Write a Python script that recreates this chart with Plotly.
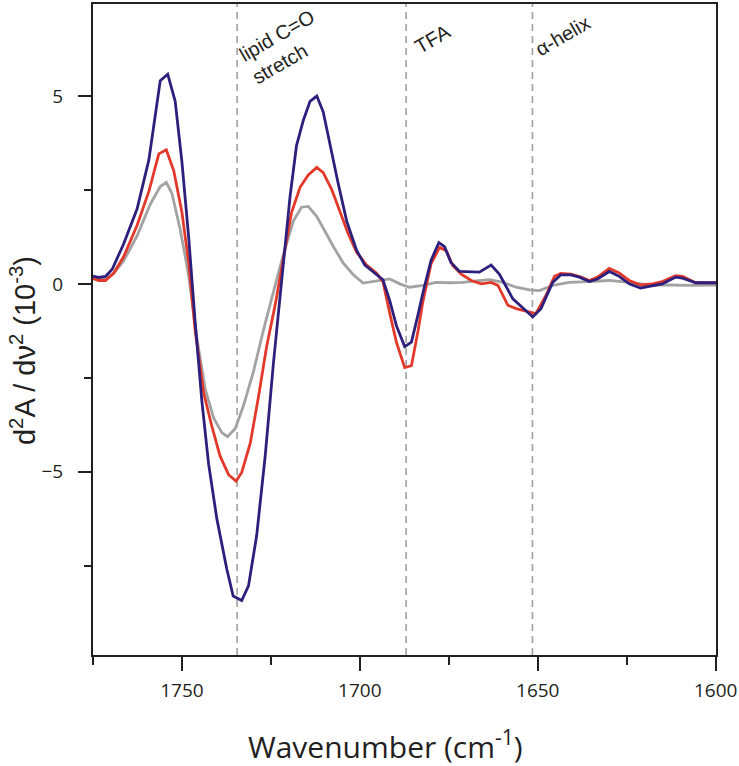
import plotly.graph_objects as go

# ---- data ----
wn_gray = [1775.7, 1772.0, 1769.2, 1766.4, 1762.6, 1758.9, 1756.1, 1754.4, 1752.8, 1750.5,
           1748.1, 1745.8, 1743.5, 1741.1, 1738.8, 1737.2, 1735.0, 1732.7, 1729.9, 1727.1,
           1724.3, 1721.5, 1718.7, 1716.4, 1714.5, 1712.1, 1709.8, 1707.5, 1704.7, 1701.9,
           1699.1, 1696.3, 1693.5, 1691.6, 1688.8, 1686.0, 1682.3, 1678.6, 1674.8, 1671.1,
           1667.3, 1663.6, 1659.8, 1656.1, 1652.3, 1649.5, 1645.8, 1641.1, 1635.5, 1629.9,
           1624.3, 1618.7, 1613.1, 1607.5, 1599.5]
d2a_gray = [0.20, 0.11, 0.28, 0.61, 1.28, 2.12, 2.59, 2.70, 2.40, 1.45,
            0.22, -1.45, -2.79, -3.57, -3.96, -4.07, -3.85, -3.24, -2.34, -1.23,
            -0.22, 0.78, 1.67, 2.04, 2.06, 1.79, 1.40, 1.00, 0.56, 0.25,
            0.02, 0.06, 0.11, 0.13, 0.00, -0.09, -0.04, 0.04, 0.03, 0.04,
            0.08, 0.11, 0.04, -0.09, -0.16, -0.18, -0.04, 0.04, 0.06, 0.09,
            0.04, -0.03, -0.03, -0.04, -0.03]

wn_red = [1775.7, 1773.4, 1771.5, 1769.2, 1766.4, 1762.6, 1759.3, 1756.5, 1754.4, 1752.3,
          1750.0, 1748.1, 1746.3, 1743.9, 1741.6, 1739.3, 1736.9, 1734.8, 1733.2, 1730.8,
          1728.5, 1726.2, 1723.8, 1721.5, 1719.2, 1716.8, 1714.5, 1712.1, 1710.3, 1707.9,
          1705.6, 1703.3, 1700.9, 1698.1, 1695.3, 1693.5, 1691.6, 1689.7, 1687.4, 1685.5,
          1683.6, 1682.3, 1680.0, 1677.6, 1675.7, 1673.9, 1671.5, 1668.7, 1665.9, 1663.1,
          1661.2, 1658.4, 1656.1, 1652.3, 1650.5, 1647.7, 1645.3, 1643.5, 1640.7, 1637.8,
          1635.5, 1633.2, 1629.9, 1627.1, 1624.3, 1621.1, 1617.8, 1615.0, 1611.2, 1609.3,
          1605.6, 1599.5]
d2a_red = [0.17, 0.09, 0.09, 0.28, 0.72, 1.56, 2.46, 3.46, 3.57, 3.01,
           1.90, 0.56, -1.23, -2.90, -3.79, -4.58, -5.08, -5.25, -5.02, -4.24,
           -3.01, -1.67, -0.56, 0.67, 1.90, 2.57, 2.90, 3.10, 2.96, 2.51,
           1.95, 1.34, 0.84, 0.50, 0.28, 0.06, -0.78, -1.56, -2.23, -2.18,
           -1.23, -0.48, 0.53, 0.97, 0.88, 0.49, 0.26, 0.09, 0.00, 0.04,
           -0.04, -0.57, -0.66, -0.75, -0.79, -0.31, 0.20, 0.28, 0.26, 0.18,
           0.09, 0.18, 0.41, 0.29, 0.09, -0.03, 0.00, 0.06, 0.22, 0.20,
           0.03, 0.03]

wn_blue = [1775.7, 1773.4, 1771.5, 1769.6, 1766.4, 1762.6, 1759.3, 1757.5, 1756.1, 1754.0,
           1751.9, 1750.0, 1748.1, 1746.3, 1744.4, 1742.5, 1740.2, 1737.4, 1735.6, 1733.2,
           1731.3, 1729.0, 1726.6, 1724.3, 1721.9, 1719.6, 1717.8, 1715.9, 1714.0, 1712.1,
           1710.3, 1708.4, 1706.1, 1703.7, 1700.9, 1698.6, 1695.8, 1693.5, 1691.6, 1689.7,
           1687.4, 1685.5, 1683.6, 1682.3, 1680.0, 1677.8, 1676.2, 1674.4, 1672.0, 1669.2,
           1666.4, 1663.1, 1660.8, 1657.0, 1654.2, 1651.4, 1649.1, 1645.8, 1643.5, 1640.7,
           1638.3, 1635.5, 1633.2, 1629.9, 1627.1, 1624.3, 1621.1, 1617.8, 1615.0, 1611.2,
           1609.3, 1605.6, 1599.5]
d2a_blue = [0.22, 0.17, 0.20, 0.39, 1.06, 2.00, 3.30, 4.50, 5.41, 5.58,
            4.86, 3.24, 1.23, -1.00, -3.12, -4.80, -6.25, -7.59, -8.31, -8.43,
            -8.04, -6.70, -4.58, -2.12, 0.22, 2.34, 3.68, 4.35, 4.86, 5.00,
            4.58, 3.68, 2.68, 1.67, 0.89, 0.50, 0.28, 0.11, -0.45, -1.12,
            -1.67, -1.55, -0.80, -0.25, 0.62, 1.10, 0.99, 0.57, 0.33, 0.33,
            0.31, 0.50, 0.26, -0.40, -0.64, -0.88, -0.66, 0.04, 0.24, 0.24,
            0.18, 0.06, 0.13, 0.33, 0.20, 0.00, -0.11, -0.06, 0.00, 0.18,
            0.15, 0.03, 0.03]

marker_wn = [1734.5, 1687.0, 1651.5]
marker_labels = ["lipid C=O<br>stretch", "TFA", "\u03b1-helix"]
label_wn = [1721.6, 1679.6, 1643.1]
label_y = [6.30, 6.52, 6.60]

x_tickvals = [1750, 1700, 1650, 1600]
y_tickvals = [5, 0, -5]

TICK_FONT = "Open Sans, sans-serif"
LABEL_FONT = "Liberation Sans, Arial, sans-serif"
AXC = "#231f20"

fig = go.Figure()
fig.add_trace(go.Scatter(x=wn_gray, y=d2a_gray, mode="lines",
                         line=dict(color="#a3a3a3", width=2.8), showlegend=False))
fig.add_trace(go.Scatter(x=wn_red, y=d2a_red, mode="lines",
                         line=dict(color="#e3392b", width=2.8), showlegend=False))
fig.add_trace(go.Scatter(x=wn_blue, y=d2a_blue, mode="lines",
                         line=dict(color="#2d1f7c", width=2.8), showlegend=False))

for xv in marker_wn:
    fig.add_shape(type="line", x0=xv, x1=xv, y0=0, y1=1, xref="x", yref="paper",
                  line=dict(color="#a0a0a0", width=1.6, dash="7px,5px"), layer="below")

for xv, yv, txt in zip(label_wn, label_y, marker_labels):
    fig.add_annotation(x=xv, y=yv, xref="x", yref="y", text=txt, showarrow=False,
                       textangle=-30, align="left", xanchor="center", yanchor="middle",
                       font=dict(family=LABEL_FONT, size=20, color="#231f20"))

# axis titles as annotations placed at the reference's pixel positions
fig.add_annotation(x=(386 - 93) / 624, y=(655 - 745) / 653, xref="paper", yref="paper",
                   text="Wavenumber (cm<sup>-1</sup>)", showarrow=False,
                   xanchor="center", yanchor="middle",
                   font=dict(family=TICK_FONT, size=30, color="#231f20"))
fig.add_annotation(x=(23 - 93) / 624, y=(655 - 350) / 653, xref="paper", yref="paper",
                   text="d<sup>2</sup>A / d\u03bd<sup>2</sup> (10<sup>-3</sup>)", showarrow=False,
                   textangle=-90, xanchor="center", yanchor="middle",
                   font=dict(family=LABEL_FONT, size=29, color="#231f20"))

fig.update_layout(
    width=739, height=766,
    margin=dict(l=93, r=22, t=2, b=111),
    paper_bgcolor="white", plot_bgcolor="white",
    xaxis=dict(range=[1775, 1599.9], tickvals=x_tickvals, ticks="outside", ticklen=14,
               tickwidth=2, tickcolor=AXC, showline=True, linewidth=2, linecolor=AXC,
               mirror=True, showgrid=False, zeroline=False,
               tickfont=dict(family=TICK_FONT, size=19, color="#231f20"),
               ticklabelstandoff=3,
               minor=dict(dtick=25, tick0=1600, ticks="outside", ticklen=8, tickwidth=2,
                          tickcolor=AXC, showgrid=False)),
    yaxis=dict(range=[-9.88, 7.45], tickvals=y_tickvals, ticks="outside", ticklen=13,
               tickwidth=2, tickcolor=AXC, showline=True, linewidth=2, linecolor=AXC,
               mirror=True, showgrid=False, zeroline=False,
               tickfont=dict(family=TICK_FONT, size=19, color="#231f20"),
               ticklabelstandoff=11,
               minor=dict(dtick=2.5, tick0=0, ticks="outside", ticklen=7, tickwidth=2,
                          tickcolor=AXC, showgrid=False)),
)

fig.write_html("out.html", config={"displayModeBar": False},
               post_script="document.body.style.margin='0';")
